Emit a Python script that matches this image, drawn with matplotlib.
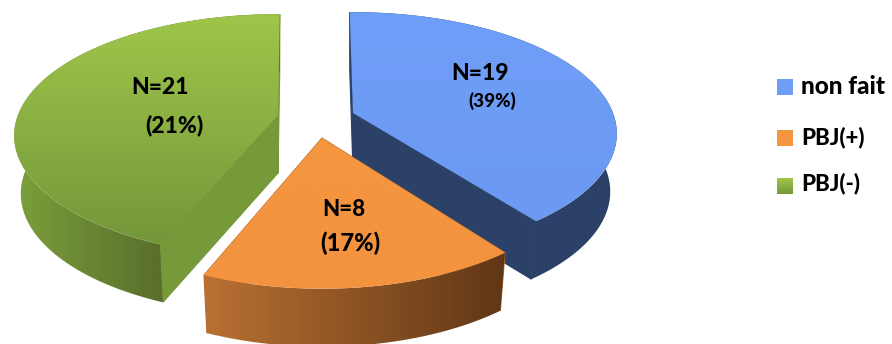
import numpy as np
import matplotlib
matplotlib.use("Agg")
import matplotlib.pyplot as plt
from matplotlib.colors import to_rgb
from matplotlib.patches import Polygon

plt.rcParams['font.family'] = ['Lato', 'DejaVu Sans']

# Data
labels = ['non fait', 'PBJ(+)', 'PBJ(-)']
counts = [19, 8, 21]
pct_labels = ['(39%)', '(17%)', '(21%)']

# Layout in pixels (the axes use image coordinates)
apexes = [(353, 113), (322, 138), (278, 115)]
y_scales = [1.0, 1.06, 1.0]
RX, RY, PERSP = 260, 118, 0.17
DEPTH, SHRINK = 58, 0.975


def project(theta, apex, yscale):
    """Pie angle (clockwise from the top) to pixels, front drawn larger"""
    u, v = np.sin(theta), np.cos(theta)
    s = 1 / (1 + PERSP * v)
    return apex[0] + RX * u * s, apex[1] - RY * yscale * v * s


def extrude(x, y, apex):
    return apex[0] + (x - apex[0]) * SHRINK, y + DEPTH


def gradient_fill(ax, verts, c0, c1, z, vertical=False, span=None):
    """Fill a polygon with a linear gradient, clipped through imshow"""
    verts = np.asarray(verts)
    x0, y0 = verts.min(axis=0)
    x1, y1 = verts.max(axis=0)
    n = 128
    pos = np.linspace(0, 1, n)
    if span is not None:
        # gradient only runs across the visible part of the wall
        pos = np.clip((np.linspace(x0, x1, n) - span[0]) / (span[1] - span[0]), 0, 1)
    t = pos[:, None]
    rgb = np.array(to_rgb(c0)) * (1 - t) + np.array(to_rgb(c1)) * t
    img = rgb[:, None, :] if vertical else rgb[None, :, :]
    im = ax.imshow(img, extent=(x0, x1, y1, y0), aspect='auto', zorder=z,
                   interpolation='bilinear')
    poly = Polygon(verts, closed=True, fc='none', ec='none', transform=ax.transData)
    ax.add_patch(poly)
    im.set_clip_path(poly)


fig = plt.figure(figsize=(8.92, 3.44), dpi=100)
ax = fig.add_axes([0, 0, 1, 1])

edges = np.concatenate(([0], np.cumsum(counts))) / sum(counts) * 2 * np.pi
# Small nudges so the back edges lean like the original
pad_start = [-0.015, 0, 0]
pad_end = [0, 0, 0.008]
styles = [
    dict(top=('#6f9ef8', '#6c9af2'), wall=('#2c4168', '#2c4168'), inner='#2c4168',
         span=None, z=1),
    dict(top=('#f4963f', '#f49340'), wall=('#b97032', '#603716'), inner='#b97032',
         span=None, z=5),
    dict(top=('#9fc64a', '#74973a'), wall=('#7c9f3b', '#5a6f2c'), inner='#76993a',
         span=(15, 157), z=3),
]

for i in range(len(counts)):
    st = styles[i]
    apex, ys = apexes[i], y_scales[i]
    z = st['z']
    theta = np.linspace(edges[i] + pad_start[i], edges[i + 1] + pad_end[i], 120)
    rx, ry = project(theta, apex, ys)
    bx, by = extrude(rx, ry, apex)
    ax_b, ay_b = extrude(apex[0], apex[1], apex)

    # Flat cut faces from the apex, then the outer wall, then the top face
    for k in (0, -1):
        ax.add_patch(Polygon([apex, (rx[k], ry[k]), (bx[k], by[k]), (ax_b, ay_b)],
                             closed=True, fc=st['inner'], ec=st['inner'], lw=0.8,
                             zorder=z))
    wall = np.vstack((np.column_stack((rx, ry)), np.column_stack((bx, by))[::-1]))
    gradient_fill(ax, wall, st['wall'][0], st['wall'][1], z + 0.1, span=st['span'])
    top = np.vstack(([apex], np.column_stack((rx, ry))))
    gradient_fill(ax, top, st['top'][0], st['top'][1], z + 0.2, vertical=True)

# Slice texts
count_pos = [(480, 74), (344, 210), (160, 88)]
pct_pos = [(492, 101), (350, 243), (174, 125)]
count_size = [16.5, 16, 16.5]
pct_size = [13.5, 17, 16.5]
for i in range(len(counts)):
    ax.text(*count_pos[i], f'N={counts[i]}', ha='center', va='center',
            fontsize=count_size[i], fontweight='black', color='black', zorder=10)
    ax.text(*pct_pos[i], pct_labels[i], ha='center', va='center',
            fontsize=pct_size[i], fontweight='black', color='black', zorder=10)

# Legend
legend_y = [87, 138, 186]
legend_text_y = [87, 137, 183]
legend_size = [17.5, 16, 16]
legend_top = ['#6f9ef8', '#f4963f', '#9fc64a']
legend_low = ['#6f9ef8', '#f4963f', '#74973a']
for i in range(len(labels)):
    y = legend_y[i]
    sq = [(777, y - 8), (793, y - 8), (793, y + 8), (777, y + 8)]
    gradient_fill(ax, sq, legend_top[i], legend_low[i], 8, vertical=True)
    ax.text(801, legend_text_y[i], labels[i], ha='left', va='center',
            fontsize=legend_size[i], fontweight='black', color='black', zorder=10)

ax.set_xlim(0, 892)
ax.set_ylim(344, 0)
ax.axis('off')
fig.savefig('out.png', dpi=100)
